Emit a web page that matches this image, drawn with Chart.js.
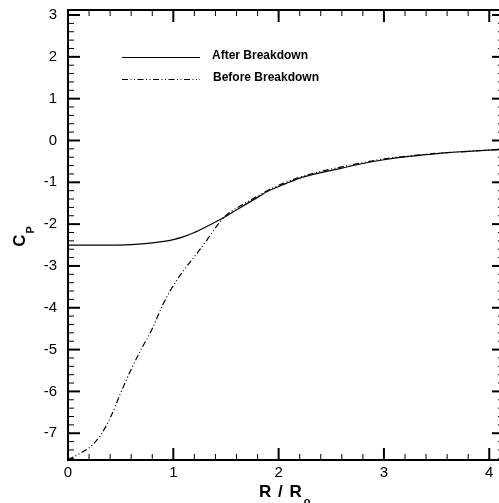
<!DOCTYPE html>
<html>
<head>
<meta charset="utf-8">
<script src="https://cdn.jsdelivr.net/npm/chart.js@4.4.1/dist/chart.umd.min.js"></script>
<style>
  html, body { margin: 0; padding: 0; overflow: hidden; background: #fff; }
  #wrap { width: 506px; height: 503px; }
</style>
</head>
<body>
<div id="wrap"><canvas id="cp"></canvas></div>
<script>
// pressure coefficient along the radius
var xAfter = [0, 0.2, 0.4, 0.6, 0.8, 1.0, 1.1, 1.2, 1.3, 1.4, 1.5, 1.6, 1.7, 1.8, 1.9, 2.0, 2.1, 2.2, 2.4, 2.6, 2.8, 3.0, 3.2, 3.4, 3.6, 3.8, 4.0, 4.14];
var yAfter = [-2.50, -2.50, -2.50, -2.49, -2.45, -2.37, -2.30, -2.20, -2.08, -1.95, -1.81, -1.66, -1.51, -1.36, -1.21, -1.10, -1.00, -0.90, -0.77, -0.66, -0.55, -0.46, -0.39, -0.34, -0.29, -0.26, -0.23, -0.21];

var xBefore = [0, 0.1, 0.2, 0.3, 0.4, 0.5, 0.6, 0.7, 0.8, 0.9, 1.0, 1.1, 1.2, 1.3, 1.4, 1.5, 1.6, 1.7, 1.8, 1.9, 2.0, 2.2, 2.4, 2.6, 2.8, 3.0, 3.2, 3.4, 3.6, 3.8, 4.0, 4.14];
var yBefore = [-7.64, -7.50, -7.35, -7.08, -6.64, -6.04, -5.47, -4.97, -4.50, -3.93, -3.47, -3.10, -2.78, -2.45, -2.09, -1.79, -1.62, -1.47, -1.33, -1.19, -1.07, -0.88, -0.74, -0.63, -0.53, -0.44, -0.38, -0.33, -0.29, -0.26, -0.23, -0.21];

var seriesNames = ["After Breakdown", "Before Breakdown"];
var xTicks = [0, 1, 2, 3, 4];
var yTicks = [-7, -6, -5, -4, -3, -2, -1, 0, 1, 2, 3];

var dashBefore = [6, 2.5, 1, 2.5, 1, 2.5];
var FONT = '"Liberation Sans", Arial, sans-serif';

function pairUp(xs, ys) {
    return xs.map(function (v, i) { return {x: v, y: ys[i]}; });
}

// frame, inward ticks on all four sides, axis titles and legend
var framePlugin = {
    id: 'framePlugin',
    afterDraw: function (chart) {
        var ctx = chart.ctx, a = chart.chartArea;
        var sx = chart.scales.x, sy = chart.scales.y;
        ctx.save();
        ctx.strokeStyle = '#000';
        ctx.fillStyle = '#000';

        function tick(px, side, len, w) {
            ctx.lineWidth = w;
            ctx.beginPath();
            if (side == 'b') { ctx.moveTo(px, a.bottom); ctx.lineTo(px, a.bottom - len); }
            if (side == 't') { ctx.moveTo(px, a.top); ctx.lineTo(px, a.top + len); }
            if (side == 'l') { ctx.moveTo(a.left, px); ctx.lineTo(a.left + len, px); }
            if (side == 'r') { ctx.moveTo(a.right, px); ctx.lineTo(a.right - len, px); }
            ctx.stroke();
        }

        // minor ticks every 0.2
        for (var i = 1; i * 0.2 <= sx.max + 1e-9; i++) {
            if (i % 5 == 0) continue;
            var px = sx.getPixelForValue(i * 0.2);
            tick(px, 'b', 6, 1);
            tick(px, 't', 6, 1);
        }
        for (var j = Math.ceil(sy.min / 0.2); j * 0.2 <= sy.max + 1e-9; j++) {
            if (j % 5 == 0) continue;
            var py = sy.getPixelForValue(j * 0.2);
            tick(py, 'l', 6, 1);
            tick(py, 'r', 6, 1);
        }
        // major ticks
        xTicks.forEach(function (v) {
            var px = sx.getPixelForValue(v);
            tick(px, 'b', 12, 2);
            tick(px, 't', 12, 2);
        });
        yTicks.forEach(function (v) {
            var py = sy.getPixelForValue(v);
            tick(py, 'l', 12, 2);
            tick(py, 'r', 12, 2);
        });

        // box
        ctx.lineWidth = 2;
        ctx.strokeRect(a.left, a.top, a.right - a.left, a.bottom - a.top);

        // x title: R / R_o
        ctx.textBaseline = 'alphabetic';
        ctx.textAlign = 'left';
        ctx.font = 'bold 17px ' + FONT;
        ctx.letterSpacing = '1px';
        var main = 'R / R';
        var w1 = ctx.measureText(main).width;
        ctx.fillText(main, 259, 497);
        ctx.letterSpacing = '0px';
        ctx.font = 'bold 11px ' + FONT;
        ctx.fillText('o', 259 + w1 + 1, 505);

        // y title: C_P
        ctx.save();
        ctx.translate(20, 237);
        ctx.rotate(-Math.PI / 2);
        ctx.font = 'bold 17px ' + FONT;
        var wc = ctx.measureText('C').width;
        ctx.font = 'bold 11px ' + FONT;
        var wp = ctx.measureText('P').width;
        var s0 = -(wc + wp) / 2;
        ctx.textBaseline = 'middle';
        ctx.font = 'bold 17px ' + FONT;
        ctx.fillText('C', s0, 0);
        ctx.font = 'bold 11px ' + FONT;
        ctx.fillText('P', s0 + wc + 1, 11);
        ctx.restore();

        // legend
        ctx.lineWidth = 1.2;
        ctx.beginPath();
        ctx.moveTo(122, 57.5); ctx.lineTo(200, 57.5);
        ctx.stroke();
        ctx.setLineDash(dashBefore);
        ctx.beginPath();
        ctx.moveTo(122, 79.5); ctx.lineTo(200, 79.5);
        ctx.stroke();
        ctx.setLineDash([]);
        ctx.font = 'bold 12px ' + FONT;
        ctx.textBaseline = 'middle';
        ctx.fillText(seriesNames[0], 212, 55.5);
        ctx.fillText(seriesNames[1], 213, 77.5);

        ctx.restore();
    }
};

var ctx = document.getElementById('cp').getContext('2d');
var chart = new Chart(ctx, {
    type: 'line',
    data: {
        datasets: [
            {
                label: seriesNames[0],
                data: pairUp(xAfter, yAfter),
                borderColor: '#000',
                borderWidth: 1.2,
                pointRadius: 0,
                cubicInterpolationMode: 'monotone'
            },
            {
                label: seriesNames[1],
                data: pairUp(xBefore, yBefore),
                borderColor: '#000',
                borderWidth: 1.2,
                borderDash: dashBefore,
                pointRadius: 0,
                cubicInterpolationMode: 'monotone'
            }
        ]
    },
    options: {
        responsive: true,
        maintainAspectRatio: false,
        animation: false,
        layout: { padding: { top: 10, right: 2, left: 0, bottom: 0 } },
        plugins: { legend: { display: false }, tooltip: { enabled: false } },
        scales: {
            x: {
                type: 'linear',
                min: 0,
                max: 4.14,
                grid: { display: false, drawTicks: false },
                border: { display: false },
                afterBuildTicks: function (s) { s.ticks = xTicks.map(function (v) { return {value: v}; }); },
                afterFit: function (s) { s.height = 43; s.paddingLeft = 0; s.paddingRight = 0; },
                ticks: {
                    autoSkip: false,
                    maxRotation: 0,
                    padding: 4,
                    color: '#000',
                    font: { family: FONT, size: 15 }
                }
            },
            y: {
                type: 'linear',
                min: -7.64,
                max: 3.12,
                grid: { display: false, drawTicks: false },
                border: { display: false },
                afterBuildTicks: function (s) { s.ticks = yTicks.map(function (v) { return {value: v}; }); },
                afterFit: function (s) { s.width = 68; s.paddingTop = 0; s.paddingBottom = 0; },
                ticks: {
                    autoSkip: false,
                    padding: 11,
                    color: '#000',
                    font: { family: FONT, size: 15 }
                }
            }
        }
    },
    plugins: [framePlugin]
});
</script>
</body>
</html>
